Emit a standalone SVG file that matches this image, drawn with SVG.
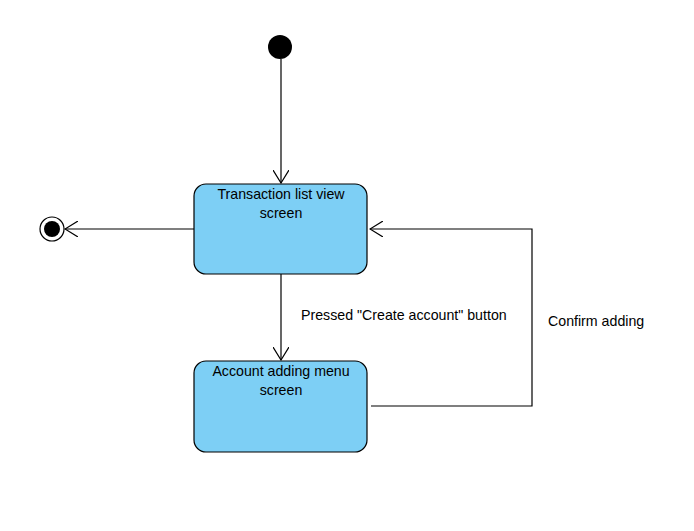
<svg xmlns="http://www.w3.org/2000/svg" width="694" height="531" viewBox="0 0 694 531">
<defs>
<style>
.state{fill:#7DCFF5;stroke:#000;stroke-width:1.2}
.lbl{font-family:"Liberation Sans",Arial,sans-serif;font-size:14.2px;fill:#000}
.ctr{text-anchor:middle}
.conn{fill:none;stroke:#000;stroke-width:1.2}
</style>
<marker id="open" viewBox="0 0 14 16" refX="13" refY="8" markerWidth="14" markerHeight="16" markerUnits="userSpaceOnUse" orient="auto">
<path d="M0,0 L13,8 L0,16" fill="none" stroke="#000" stroke-width="1.2"/>
</marker>
</defs>
<rect width="694" height="531" fill="#fff"/>
<g id="connectors">
<path class="conn" d="M281,59 L281,183" marker-end="url(#open)"/>
<path class="conn" d="M194,229 L65,229" marker-end="url(#open)"/>
<path class="conn" d="M281,274 L281,360" marker-end="url(#open)"/>
<path class="conn" d="M371,406 L532,406 L532,229 L370,229" marker-end="url(#open)"/>
<text class="lbl" x="301" y="320">Pressed "Create account" button</text>
<text class="lbl" x="548" y="326">Confirm adding</text>
</g>
<g id="initial">
<circle cx="280" cy="47" r="12" fill="#000"/>
</g>
<g id="final">
<circle cx="52" cy="229" r="12" fill="#fff" stroke="#000" stroke-width="1.2"/>
<circle cx="52" cy="229" r="8" fill="#000"/>
</g>
<g id="transaction-list">
<rect class="state" x="194" y="184" width="173" height="90" rx="12"/>
<text class="lbl ctr" x="281" y="199">Transaction list view</text>
<text class="lbl ctr" x="281" y="218">screen</text>
</g>
<g id="account-adding">
<rect class="state" x="194" y="361" width="173" height="91" rx="12"/>
<text class="lbl ctr" x="281" y="376">Account adding menu</text>
<text class="lbl ctr" x="281" y="395">screen</text>
</g>
</svg>
